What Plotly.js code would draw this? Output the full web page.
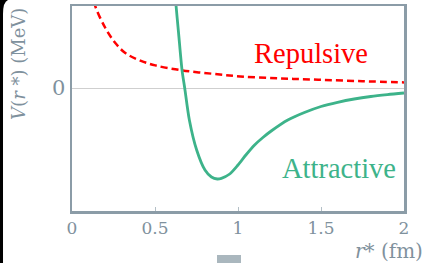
<!DOCTYPE html>
<html>
<head>
<meta charset="utf-8">
<script src="https://cdn.plot.ly/plotly-3.0.1.min.js"></script>
<style>
html,body{margin:0;padding:0;background:#fff;}
#chart{width:428px;height:263px;}
</style>
</head>
<body>
<div id="chart"></div>
<script>
// Repulsive (Coulomb-like) potential
const repR = [0.12, 0.14, 0.201, 0.261, 0.321, 0.402, 0.502, 0.663, 0.843, 1.014, 1.25, 1.484, 1.75, 2.0];
const repV = [97, 82, 60, 45, 35, 28, 22.6, 17.6, 14.3, 11.6, 9.6, 8.3, 6.8, 5.6];

// Attractive potential (well)
const attR = [0.60, 0.627, 0.642, 0.663, 0.679, 0.707, 0.751, 0.801, 0.84, 0.875, 0.9, 0.95, 1.0, 1.05, 1.1, 1.15, 1.2, 1.3, 1.4, 1.5, 1.6, 1.7, 1.8, 1.9, 2.0];
const attV = [135, 82, 55, 17.6, 0, -32, -62, -82, -89, -91, -90.3, -86, -77, -66.5, -57, -49.5, -43, -32, -24.5, -18.5, -14.3, -11, -8.5, -6.6, -5];

const xTickVals = [0, 0.5, 1, 1.5, 2];
const xTickText = ['0', '0.5', '1', '1.5', '2'];
const yTickVals = [0];
const yTickText = ['0'];

const axisCol = '#8b9ca7';
const textCol = '#7f919d';
const redCol = '#ff0000';
const greenCol = '#3db38a';
const serif = 'DejaVu Serif, serif';
const labelSerif = 'Liberation Serif, serif';

const traces = [
  {x: repR, y: repV, type: 'scatter', mode: 'lines',
   line: {color: redCol, width: 2.5, dash: '7px,4px', shape: 'spline', smoothing: 1},
   hoverinfo: 'skip'},
  {x: attR, y: attV, type: 'scatter', mode: 'lines',
   line: {color: greenCol, width: 2.8, shape: 'spline', smoothing: 0.8},
   hoverinfo: 'skip'}
];

const layout = {
  width: 428, height: 263,
  margin: {l: 72, r: 24, t: 6, b: 52, pad: 0},
  paper_bgcolor: '#ffffff', plot_bgcolor: '#ffffff',
  showlegend: false,
  xaxis: {
    range: [0, 2], tickvals: xTickVals, ticktext: xTickText,
    showgrid: false, zeroline: false,
    showline: true, linecolor: axisCol, linewidth: 2.5, mirror: true,
    ticks: 'inside', ticklen: 4, tickwidth: 1, tickcolor: '#b3bfc6',
    tickfont: {family: serif, size: 17, color: textCol}
  },
  yaxis: {
    range: [-123, 82], tickvals: yTickVals, ticktext: yTickText,
    showgrid: false, zeroline: true, zerolinecolor: '#cfcfcf', zerolinewidth: 1,
    showline: true, linecolor: axisCol, linewidth: 2.5, mirror: true,
    ticks: '', tickfont: {family: serif, size: 21, color: textCol}
  },
  annotations: [
    {xref: 'paper', yref: 'paper', x: -0.163, y: 0.717, textangle: -90,
     text: '<i>V</i>(<i>r</i> *) (MeV)', showarrow: false,
     xanchor: 'center', yanchor: 'middle',
     font: {family: serif, size: 18, color: textCol}},
    {xref: 'paper', yref: 'paper', x: 1.063, y: -0.195,
     text: '<i>r</i>* (fm)', showarrow: false,
     xanchor: 'right', yanchor: 'middle',
     font: {family: serif, size: 20, color: textCol}},
    {xref: 'paper', yref: 'paper', x: 0.721, y: 0.767,
     text: 'Repulsive', showarrow: false,
     xanchor: 'center', yanchor: 'middle',
     font: {family: labelSerif, size: 28.5, color: redCol}},
    {xref: 'paper', yref: 'paper', x: 0.804, y: 0.206,
     text: 'Attractive', showarrow: false,
     xanchor: 'center', yanchor: 'middle',
     font: {family: labelSerif, size: 28.5, color: greenCol}}
  ],
  shapes: [
    {type: 'rect', xref: 'paper', yref: 'paper',
     x0: 0.4367, x1: 0.509, y0: -0.2537, y1: -0.2146,
     fillcolor: '#aab7be', line: {width: 0}, layer: 'above'},
    {type: 'path', xref: 'paper', yref: 'paper',
     path: 'M -0.2169 1.0293 L -0.1928 1.0293 Q -0.2078 1.0195 -0.2078 0.961 L -0.2078 -0.2537 L -0.2169 -0.2537 Z',
     fillcolor: '#000000', line: {width: 0}, layer: 'above'}
  ]
};

Plotly.newPlot('chart', traces, layout, {staticPlot: true, displayModeBar: false});
</script>
</body>
</html>
